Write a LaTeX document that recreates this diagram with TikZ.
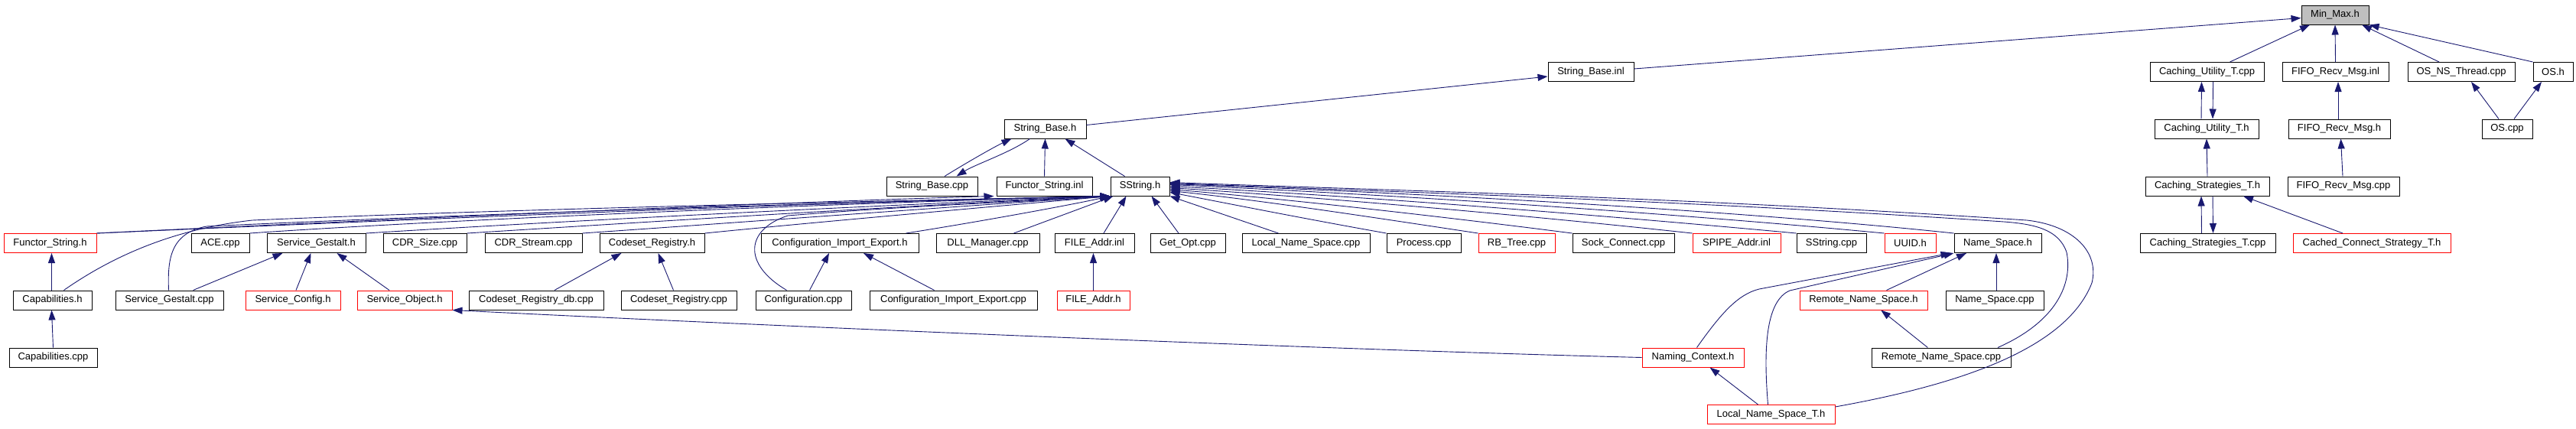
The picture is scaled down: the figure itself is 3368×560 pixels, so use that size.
\documentclass[tikz,border=0pt]{standalone}
\usepackage{fontspec}
\setmainfont{Liberation Sans}
\usetikzlibrary{arrows.meta}
\definecolor{edgec}{HTML}{191970}
\definecolor{boxgray}{HTML}{BFBFBF}
\tikzset{
  nd/.style={draw=black, line width=1pt, minimum height=25pt, inner sep=0pt, anchor=center, font=\fontsize{13}{13}\selectfont},
  rnd/.style={nd, draw=red},
  edge/.style={draw=edgec, line width=0.9pt, -{Triangle[length=13pt,width=9pt]}},
}
\begin{document}
\begin{tikzpicture}[x=1pt,y=-1pt]
\useasboundingbox (0,0) rectangle (3368,560);
% row 1
\node[nd, minimum width=88pt, fill=boxgray] (MinMax) at (3053,19.5) {Min\_Max.h};
% row 2
\node[nd, minimum width=112pt] (SBinl) at (2080,94) {String\_Base.inl};
\node[nd, minimum width=149pt] (CUTcpp) at (2885.5,94) {Caching\_Utility\_T.cpp};
\node[nd, minimum width=139pt] (FIFOinl) at (3053.5,94) {FIFO\_Recv\_Msg.inl};
\node[nd, minimum width=140pt] (OSNS) at (3218,94) {OS\_NS\_Thread.cpp};
\node[nd, minimum width=52pt] (OSh) at (3338,94) {OS.h};
% row 3
\node[nd, minimum width=107pt] (SBh) at (1366.5,168.5) {String\_Base.h};
\node[nd, minimum width=136pt] (CUTh) at (2885,168.5) {Caching\_Utility\_T.h};
\node[nd, minimum width=133pt] (FIFOh) at (3058.5,168.5) {FIFO\_Recv\_Msg.h};
\node[nd, minimum width=66pt] (OScpp) at (3278,168.5) {OS.cpp};
% row 4
\node[nd, minimum width=119pt] (SBcpp) at (1218.5,243.5) {String\_Base.cpp};
\node[nd, minimum width=125pt] (FSinl) at (1365.5,243.5) {Functor\_String.inl};
\node[nd, minimum width=77pt] (SSh) at (1490.5,243.5) {SString.h};
\node[nd, minimum width=162pt] (CSTh) at (2886,243.5) {Caching\_Strategies\_T.h};
\node[nd, minimum width=146pt] (FIFOcpp) at (3064,243.5) {FIFO\_Recv\_Msg.cpp};
% row 5
\node[rnd, minimum width=121pt] (FSh) at (65.5,318) {Functor\_String.h};
\node[nd, minimum width=76pt] (ACE) at (288,318) {ACE.cpp};
\node[nd, minimum width=129pt] (SGh) at (413.5,318) {Service\_Gestalt.h};
\node[nd, minimum width=109pt] (CDRSize) at (555.5,318) {CDR\_Size.cpp};
\node[nd, minimum width=127pt] (CDRStream) at (697.5,318) {CDR\_Stream.cpp};
\node[nd, minimum width=137pt] (CRh) at (852.5,318) {Codeset\_Registry.h};
\node[nd, minimum width=206pt] (CIEh) at (1098,318) {Configuration\_Import\_Export.h};
\node[nd, minimum width=135pt] (DLL) at (1291.5,318) {DLL\_Manager.cpp};
\node[nd, minimum width=104pt] (FAinl) at (1431,318) {FILE\_Addr.inl};
\node[nd, minimum width=98pt] (GetOpt) at (1553,318) {Get\_Opt.cpp};
\node[nd, minimum width=167pt] (LNScpp) at (1707.5,318) {Local\_Name\_Space.cpp};
\node[nd, minimum width=97pt] (Process) at (1861.5,318) {Process.cpp};
\node[rnd, minimum width=100pt] (RBTree) at (1983,318) {RB\_Tree.cpp};
\node[nd, minimum width=133pt] (Sock) at (2122.5,318) {Sock\_Connect.cpp};
\node[rnd, minimum width=115pt] (SPIPE) at (2270.5,318) {SPIPE\_Addr.inl};
\node[nd, minimum width=91pt] (SStrcpp) at (2394.5,318) {SString.cpp};
\node[rnd, minimum width=67pt] (UUID) at (2497.5,318) {UUID.h};
\node[nd, minimum width=114pt] (NSh) at (2612,318) {Name\_Space.h};
\node[nd, minimum width=177pt] (CSTcpp) at (2886.5,318) {Caching\_Strategies\_T.cpp};
\node[rnd, minimum width=206pt] (CCST) at (3101,318) {Cached\_Connect\_Strategy\_T.h};
% row 6
\node[nd, minimum width=103pt] (Caph) at (68.5,392.5) {Capabilities.h};
\node[nd, minimum width=141pt] (SGcpp) at (221.5,392.5) {Service\_Gestalt.cpp};
\node[rnd, minimum width=124pt] (SConfig) at (383,392.5) {Service\_Config.h};
\node[rnd, minimum width=124pt] (SObject) at (529,392.5) {Service\_Object.h};
\node[nd, minimum width=176pt] (CRdb) at (701,392.5) {Codeset\_Registry\_db.cpp};
\node[nd, minimum width=151pt] (CRcpp) at (887.5,392.5) {Codeset\_Registry.cpp};
\node[nd, minimum width=125pt] (Config) at (1050.5,392.5) {Configuration.cpp};
\node[nd, minimum width=219pt] (CIEcpp) at (1246.5,392.5) {Configuration\_Import\_Export.cpp};
\node[rnd, minimum width=95pt] (FAh) at (1429.5,392.5) {FILE\_Addr.h};
\node[rnd, minimum width=167pt] (RNSh) at (2436.5,392.5) {Remote\_Name\_Space.h};
\node[nd, minimum width=128pt] (NScpp) at (2608,392.5) {Name\_Space.cpp};
% row 7
\node[nd, minimum width=115pt] (Capcpp) at (69.5,467.5) {Capabilities.cpp};
\node[rnd, minimum width=133pt] (NCh) at (2213.5,467.5) {Naming\_Context.h};
\node[nd, minimum width=182pt] (RNScpp) at (2538,467.5) {Remote\_Name\_Space.cpp};
% row 8
\node[rnd, minimum width=167pt] (LNST) at (2315.5,542) {Local\_Name\_Space\_T.h};

% ---- edges: top right
\draw[edge] ([yshift=4pt]SBinl.east) -- ([yshift=-4pt]MinMax.west);
\draw[edge] ([xshift=30pt]CUTcpp.north) -- ([xshift=-33pt]MinMax.south);
\draw[edge] (FIFOinl.north) -- (MinMax.south);
\draw[edge] ([xshift=-29pt]OSNS.north) -- ([xshift=35pt]MinMax.south);
\draw[edge] (OSh.north west) -- (MinMax.south east);
\draw[edge] ([xshift=-7pt]CUTh.north) -- ([xshift=-7pt]CUTcpp.south);
\draw[edge] ([xshift=8pt]CUTcpp.south) -- ([xshift=8pt]CUTh.north);
\draw[edge] (CSTh.north) -- (CUTh.south);
\draw[edge] ([xshift=-1.5pt]FIFOh.north) -- ([xshift=3.5pt]FIFOinl.south);
\draw[edge] ([xshift=-1pt]FIFOcpp.north) -- ([xshift=2pt]FIFOh.south);
\draw[edge] ([xshift=-11pt]OScpp.north) -- ([xshift=13pt]OSNS.south);
\draw[edge] ([xshift=9pt]OScpp.north) -- ([xshift=-15pt]OSh.south);
\draw[edge] ([xshift=-8pt]CSTcpp.north) -- ([xshift=-8pt]CSTh.south);
\draw[edge] ([xshift=7pt]CSTh.south) -- ([xshift=7pt]CSTcpp.north);
\draw[edge] ([xshift=-38pt]CCST.north) -- ([xshift=47pt]CSTh.south);

% ---- String_Base cluster
\draw[edge] ([yshift=5pt]SBh.east) -- ([yshift=-6pt]SBinl.west);
\draw[edge] ([xshift=16.5pt]SBcpp.north) .. controls (1265,212) and (1300,192) .. ([xshift=-44pt]SBh.south);
\draw[edge] ([xshift=-20pt]SBh.south) .. controls (1320,200) and (1275,215) .. ([xshift=32pt]SBcpp.north);
\draw[edge] (FSinl.north) -- (SBh.south);
\draw[edge] ([xshift=-20pt]SSh.north) -- ([xshift=26pt]SBh.south);

% ---- left fan into SString.h / Functor_String.inl
\draw[edge] (FSh.north east) .. controls (600,282) and (1100,262) .. ([xshift=-3pt]FSinl.south west);
\draw[edge] (FSh.north east) .. controls (600,284) and (1150,262) .. (SSh.south west);
\draw[edge] ([xshift=15pt]Caph.north) .. controls (140,340) and (220,300) .. (330,288) .. controls (700,272) and (1200,262) .. (SSh.south west);
\draw[edge] ([xshift=-1pt]SGcpp.north) .. controls (219,340) and (222,305) .. (270,296) .. controls (650,278) and (1200,262) .. (SSh.south west);
\draw[edge] (ACE.north east) .. controls (600,286) and (1150,264) .. (SSh.south west);
\draw[edge] (SGh.north east) .. controls (750,288) and (1200,266) .. (SSh.south west);
\draw[edge] (CDRSize.north east) .. controls (850,290) and (1200,268) .. (SSh.south west);
\draw[edge] (CDRStream.north east) .. controls (950,292) and (1250,270) .. (SSh.south west);
\draw[edge] (CRh.north east) .. controls (1050,292) and (1300,270) .. (SSh.south west);
\draw[edge] ([xshift=-22pt]Config.north) .. controls (970,345) and (975,300) .. (1030,282) .. controls (1200,268) and (1380,262) .. (SSh.south west);
\draw[edge] ([xshift=-17pt]CIEh.north east) .. controls (1280,290) and (1400,268) .. (SSh.south west);
\draw[edge] ([xshift=-34pt]DLL.north east) .. controls (1360,292) and (1420,270) .. ([xshift=4pt]SSh.south west);
\draw[edge] ([xshift=12pt]FAinl.north) -- ([xshift=-18pt]SSh.south);
\draw[edge] ([xshift=-12pt]GetOpt.north) -- ([xshift=15pt]SSh.south);

% ---- right fan into SString.h
\draw[edge] ([xshift=-36pt]LNScpp.north) -- (SSh.south east);
\draw[edge] (Process.north west) .. controls (1700,285) and (1600,265) .. ([yshift=-8pt]SSh.east);
\draw[edge] (RBTree.north west) .. controls (1800,285) and (1650,262) .. ([yshift=-6pt]SSh.east);
\draw[edge] (Sock.north west) .. controls (1900,285) and (1700,262) .. ([yshift=-4pt]SSh.east);
\draw[edge] (SPIPE.north west) .. controls (2000,282) and (1750,260) .. ([yshift=-2pt]SSh.east);
\draw[edge] (SStrcpp.north west) .. controls (2100,282) and (1800,258) .. (SSh.east);
\draw[edge] (UUID.north west) .. controls (2200,280) and (1850,256) .. ([yshift=2pt]SSh.east);
\draw[edge] (NSh.north west) .. controls (2300,278) and (1900,254) .. ([yshift=3pt]SSh.east);
\draw[edge] ([xshift=74pt]RNScpp.north) .. controls (2690,420) and (2710,370) .. (2702,330) .. controls (2692,300) and (2660,293) .. (2620,290) .. controls (2200,262) and (1850,252) .. ([yshift=4pt]SSh.east);
\draw[edge] ([yshift=10pt]LNST.east) .. controls (2550,505) and (2700,460) .. (2735,370) .. controls (2745,330) and (2712,295) .. (2650,288) .. controls (2200,258) and (1850,250) .. ([yshift=5pt]SSh.east);

% ---- lower left
\draw[edge] (Capcpp.north) -- ([xshift=-1pt]Caph.south);
\draw[edge] ([xshift=-1pt]Caph.north) -- ([xshift=2pt]FSh.south);
\draw[edge] ([xshift=31pt]SGcpp.north) -- ([xshift=-44pt]SGh.south);
\draw[edge] ([xshift=4pt]SConfig.north) -- ([xshift=-7pt]SGh.south);
\draw[edge] ([xshift=-20pt]SObject.north) -- ([xshift=27pt]SGh.south);
\draw[edge] ([xshift=24pt]CRdb.north) -- ([xshift=-40pt]CRh.south);
\draw[edge] ([xshift=-7pt]CRcpp.north) -- ([xshift=8pt]CRh.south);
\draw[edge] ([xshift=8pt]Config.north) -- ([xshift=-14pt]CIEh.south);
\draw[edge] ([xshift=-25pt]CIEcpp.north) -- ([xshift=31pt]CIEh.south);
\draw[edge] (FAh.north) -- ([xshift=-1.5pt]FAinl.south);
\draw[edge] (NCh.west) .. controls (1700,456) and (1000,426) .. (SObject.south east);

% ---- Name_Space cluster
\draw[edge] ([xshift=2pt]NScpp.north) -- ([xshift=-2pt]NSh.south);
\draw[edge] ([xshift=30pt]RNSh.north) -- ([xshift=-41pt]NSh.south);
\draw[edge] ([xshift=5pt]NCh.north) .. controls (2250,410) and (2272,385) .. (2300,378) -- ([xshift=-4pt]NSh.south west);
\draw[edge] ([xshift=-4pt]LNST.north) .. controls (2305,450) and (2310,393) .. (2340,380) -- (NSh.south west);
\draw[edge] ([xshift=-17pt]LNST.north) -- ([xshift=22pt]NCh.south);
\draw[edge] ([xshift=-17.6pt]RNScpp.north) -- ([xshift=22.7pt]RNSh.south);
\end{tikzpicture}
\end{document}
